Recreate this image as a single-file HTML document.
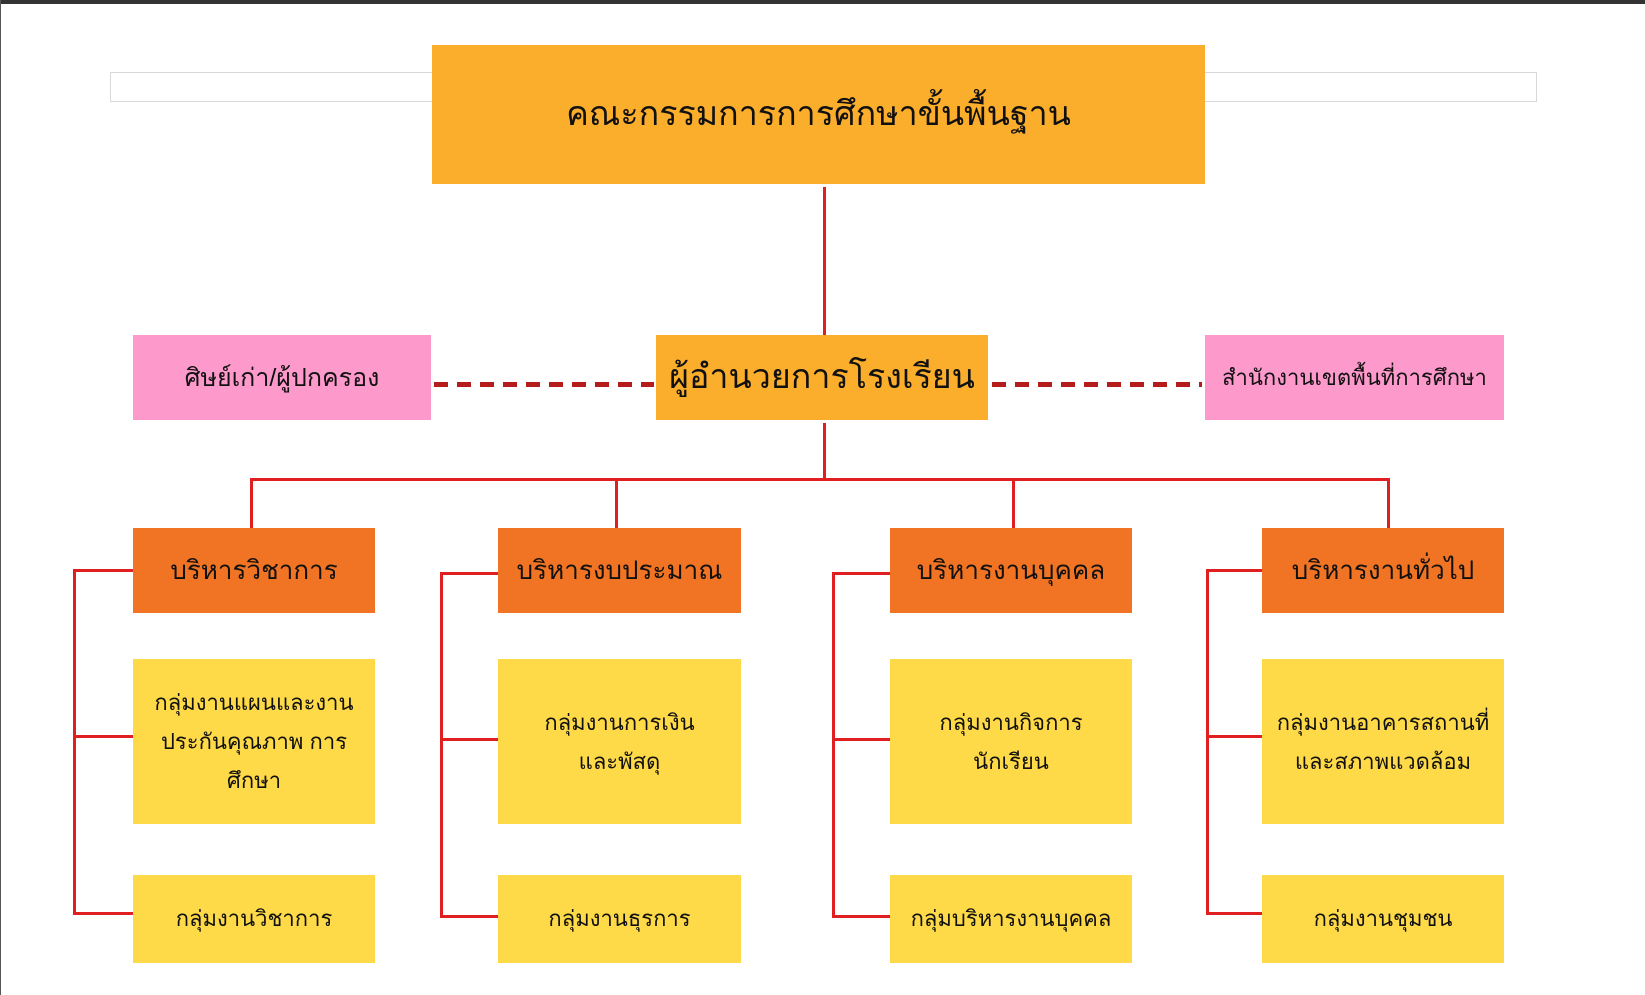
<!DOCTYPE html>
<html><head><meta charset="utf-8"><style>
body{margin:0;width:1645px;height:995px;background:#fff;position:relative;overflow:hidden;font-family:"Liberation Sans","DejaVu Sans",sans-serif;color:#111}
.b{position:absolute;display:flex;align-items:center;justify-content:center;text-align:center;line-height:1.6}
.l{position:absolute;background:#e02020}
</style></head><body>
<div style="position:absolute;left:0;top:0;width:1645px;height:4px;background:#333"></div>
<div style="position:absolute;left:0;top:0;width:1px;height:995px;background:#555"></div>
<div style="position:absolute;left:110px;top:72px;width:1427px;height:30px;border:1px solid #d8d8d8;box-sizing:border-box"></div>
<div class="b" style="left:432px;top:45px;width:773px;height:139px;background:#fbae2c;font-size:34px">คณะกรรมการการศึกษาขั้นพื้นฐาน</div>
<div class="l" style="left:823px;top:187px;width:3px;height:148px"></div>
<div class="b" style="left:133px;top:335px;width:298px;height:85px;background:#fd99cb;font-size:25px">ศิษย์เก่า/ผู้ปกครอง</div>
<div class="b" style="left:656px;top:335px;width:332px;height:85px;background:#fbae2c;font-size:34px">ผู้อำนวยการโรงเรียน</div>
<div class="b" style="left:1205px;top:335px;width:299px;height:85px;background:#fd99cb;font-size:22px">สำนักงานเขตพื้นที่การศึกษา</div>
<div style="position:absolute;left:434px;top:382px;width:220px;height:5px;background:repeating-linear-gradient(90deg,#b51c1c 0 14px,transparent 14px 23px)"></div>
<div style="position:absolute;left:992px;top:382px;width:210px;height:5px;background:repeating-linear-gradient(90deg,#b51c1c 0 14px,transparent 14px 23px)"></div>
<div class="l" style="left:823px;top:423px;width:3px;height:56px"></div>
<div class="l" style="left:251px;top:478px;width:1138px;height:3px"></div>
<div class="l" style="left:250px;top:478px;width:3px;height:50px"></div>
<div class="l" style="left:615px;top:478px;width:3px;height:50px"></div>
<div class="l" style="left:1012px;top:478px;width:3px;height:50px"></div>
<div class="l" style="left:1387px;top:478px;width:3px;height:50px"></div>

<div class="b" style="left:133px;top:528px;width:242px;height:85px;background:#f07423;font-size:26px">บริหารวิชาการ</div>
<div class="b" style="left:498px;top:528px;width:243px;height:85px;background:#f07423;font-size:26px">บริหารงบประมาณ</div>
<div class="b" style="left:890px;top:528px;width:242px;height:85px;background:#f07423;font-size:26px">บริหารงานบุคคล</div>
<div class="b" style="left:1262px;top:528px;width:242px;height:85px;background:#f07423;font-size:26px">บริหารงานทั่วไป</div>

<div class="b" style="left:133px;top:659px;width:242px;height:165px;background:#fed948;font-size:22px;line-height:39px">กลุ่มงานแผนและงาน<br>ประกันคุณภาพ การ<br>ศึกษา</div>
<div class="b" style="left:498px;top:659px;width:243px;height:165px;background:#fed948;font-size:22px;line-height:39px">กลุ่มงานการเงิน<br>และพัสดุ</div>
<div class="b" style="left:890px;top:659px;width:242px;height:165px;background:#fed948;font-size:22px;line-height:39px">กลุ่มงานกิจการ<br>นักเรียน</div>
<div class="b" style="left:1262px;top:659px;width:242px;height:165px;background:#fed948;font-size:22px;line-height:39px">กลุ่มงานอาคารสถานที่<br>และสภาพแวดล้อม</div>

<div class="b" style="left:133px;top:875px;width:242px;height:88px;background:#fed948;font-size:22px">กลุ่มงานวิชาการ</div>
<div class="b" style="left:498px;top:875px;width:243px;height:88px;background:#fed948;font-size:22px">กลุ่มงานธุรการ</div>
<div class="b" style="left:890px;top:875px;width:242px;height:88px;background:#fed948;font-size:22px">กลุ่มบริหารงานบุคคล</div>
<div class="b" style="left:1262px;top:875px;width:242px;height:88px;background:#fed948;font-size:22px">กลุ่มงานชุมชน</div>

<div class="l" style="left:73px;top:569px;width:3px;height:346px"></div>
<div class="l" style="left:73px;top:569px;width:60px;height:3px"></div>
<div class="l" style="left:73px;top:735px;width:60px;height:3px"></div>
<div class="l" style="left:73px;top:912px;width:60px;height:3px"></div>

<div class="l" style="left:440px;top:572px;width:3px;height:343px"></div>
<div class="l" style="left:440px;top:572px;width:58px;height:3px"></div>
<div class="l" style="left:440px;top:738px;width:58px;height:3px"></div>
<div class="l" style="left:440px;top:915px;width:58px;height:3px"></div>

<div class="l" style="left:832px;top:572px;width:3px;height:343px"></div>
<div class="l" style="left:832px;top:572px;width:58px;height:3px"></div>
<div class="l" style="left:832px;top:738px;width:58px;height:3px"></div>
<div class="l" style="left:832px;top:915px;width:58px;height:3px"></div>

<div class="l" style="left:1206px;top:569px;width:3px;height:346px"></div>
<div class="l" style="left:1206px;top:569px;width:56px;height:3px"></div>
<div class="l" style="left:1206px;top:735px;width:56px;height:3px"></div>
<div class="l" style="left:1206px;top:912px;width:56px;height:3px"></div>
</body></html>
